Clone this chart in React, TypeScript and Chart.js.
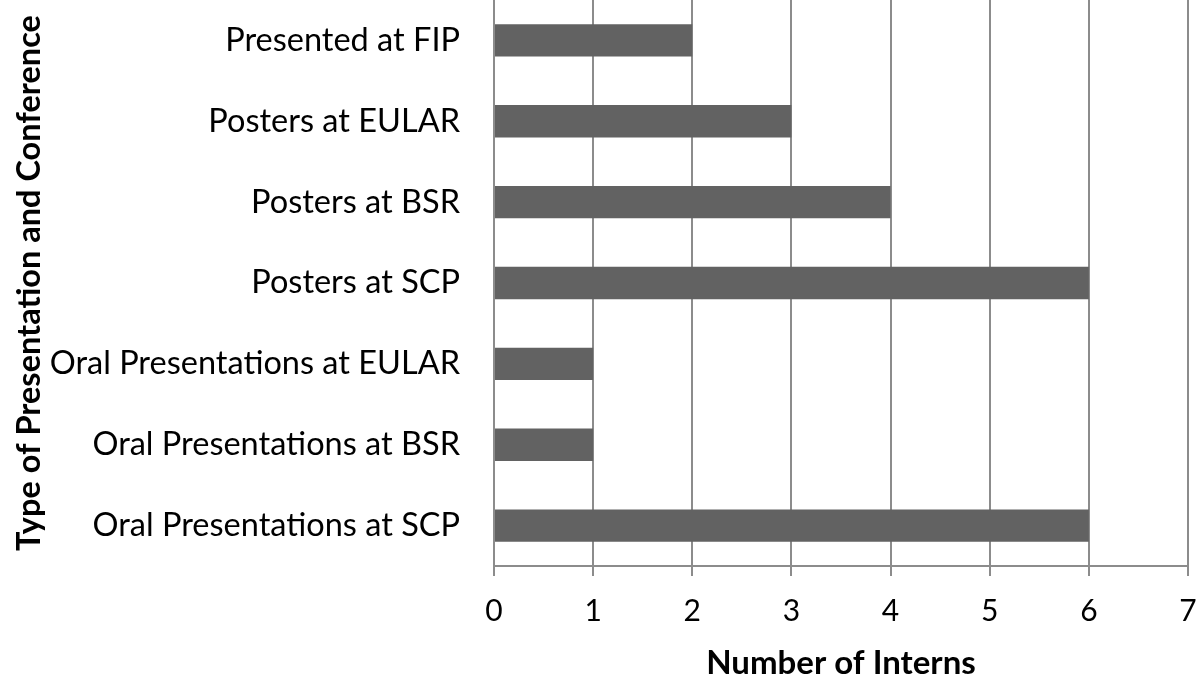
import React, { useEffect, useRef } from "react";
import { Chart, registerables } from "chart.js";

Chart.register(...registerables);

const categories = [
  "Presented at FIP",
  "Posters at EULAR",
  "Posters at BSR",
  "Posters at SCP",
  "Oral Presentations at EULAR",
  "Oral Presentations at BSR",
  "Oral Presentations at SCP",
];
const interns = [2, 3, 4, 6, 1, 1, 6];
const xTicks = [0, 1, 2, 3, 4, 5, 6, 7];

const FONT = "Lato, 'Open Sans', sans-serif";
const GRID = "#8c8c8c";

export default function App() {
  const ref = useRef<HTMLCanvasElement | null>(null);
  useEffect(() => {
    const ctx = ref.current!;
    const chart = new Chart(ctx, {
      type: "bar",
      data: {
        labels: categories,
        datasets: [
          {
            data: interns,
            backgroundColor: "#626262",
            borderWidth: 0,
            categoryPercentage: 1,
            barPercentage: 0.4,
          },
        ],
      },
      options: {
        indexAxis: "y",
        animation: false,
        responsive: false,
        maintainAspectRatio: false,
        layout: { padding: { top: 0, right: 12, left: 0, bottom: 0 } },
        plugins: { legend: { display: false }, tooltip: { enabled: false } },
        scales: {
          x: {
            min: 0,
            max: 7,
            afterBuildTicks: (s: any) => {
              s.ticks = xTicks.map((v) => ({ value: v }));
            },
            grid: { color: GRID, lineWidth: 2, tickLength: 10, drawTicks: true },
            border: { color: GRID, width: 2 },
            ticks: { color: "#000", font: { family: FONT, size: 30 }, padding: 17 },
            title: {
              display: true,
              text: "Number of Interns",
              color: "#000",
              font: { family: FONT, size: 33, weight: "bold", lineHeight: 1 },
              padding: { top: 0, bottom: 0 },
            },
            afterFit: (s: any) => {
              s.height = 114;
              s.paddingLeft = 0;
              s.paddingRight = 0;
            },
          },
          y: {
            grid: { display: false, drawTicks: false },
            border: { color: GRID, width: 2 },
            ticks: { color: "#000", font: { family: FONT, size: 32.5 }, padding: 34 },
            title: {
              display: true,
              text: "Type of Presentation and Conference",
              color: "#000",
              font: { family: FONT, size: 32.5, weight: "bold", lineHeight: 1 },
              padding: { top: 13, bottom: 0 },
            },
            afterFit: (s: any) => {
              s.width = 494;
              s.paddingTop = 0;
              s.paddingBottom = 0;
            },
          },
        },
      },
    });
    return () => chart.destroy();
  }, []);
  return (
    <div style={{ position: "fixed", left: 0, top: 0, width: 1200, height: 680, background: "#fff" }}>
      <canvas ref={ref} width={1200} height={680} style={{ width: 1200, height: 680 }} />
    </div>
  );
}
